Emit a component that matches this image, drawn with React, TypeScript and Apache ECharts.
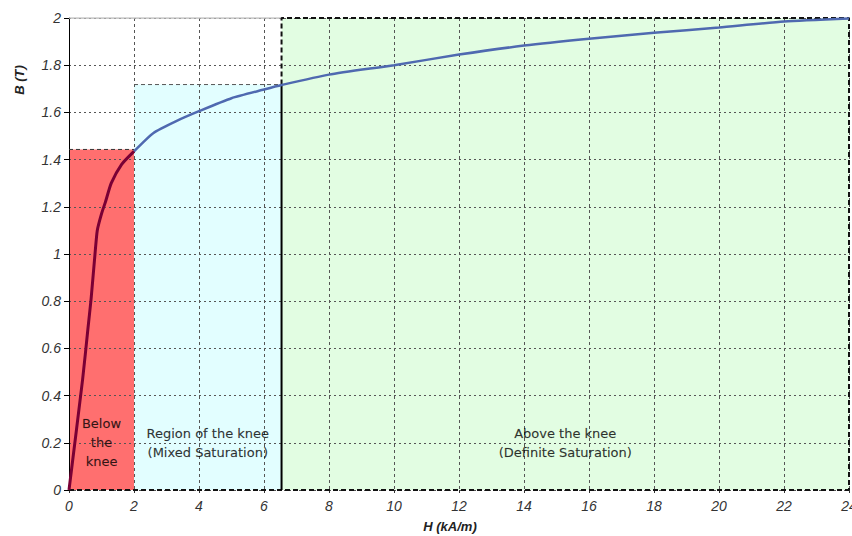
import React, { useEffect, useRef } from "react";
import * as echarts from "echarts";

// Magnetisation curve, below the knee (red part)
const H_BELOW = [0, 0.42, 0.58, 0.68, 0.8, 0.87, 1.0, 1.12, 1.3, 1.62, 2.0];
const B_BELOW = [0, 0.47, 0.68, 0.81, 1.0, 1.1, 1.17, 1.22, 1.3, 1.38, 1.435];
// Magnetisation curve, knee and above (blue part)
const H_ABOVE = [2, 2.6, 3.3, 4.0, 5.0, 6.0, 6.54, 8, 10, 12, 14, 16, 18, 20, 22, 24];
const B_ABOVE = [1.435, 1.513, 1.563, 1.605, 1.66, 1.697, 1.716, 1.76, 1.8, 1.845, 1.883, 1.912, 1.937, 1.96, 1.985, 1.998];

// Region limits
const H_KNEE_START = 2;
const H_KNEE_END = 6.54;
const B_KNEE_START = 1.443;
const B_KNEE_END = 1.718;
const H_MAX = 24;
const B_MAX = 2;

const REGION_LABELS = ["Below\nthe\nknee", "Region of the knee\n(Mixed Saturation)", "Above the knee\n(Definite Saturation)"];
const X_TICKS = [0, 2, 4, 6, 8, 10, 12, 14, 16, 18, 20, 22, 24];

const zip = (xs: number[], ys: number[]) => xs.map((x, i) => [x, ys[i]]);

export default function App() {
  const ref = useRef<HTMLDivElement>(null);
  useEffect(() => {
    if (!ref.current) return;
    const chart = echarts.init(ref.current, null, { renderer: "svg" });
    const axisFont = { fontFamily: "Liberation Sans", fontStyle: "italic" as const, fontSize: 14, color: "#333" };
    const regionFont = { fontFamily: "DejaVu Sans", fontSize: 13, color: "#000", textBorderColor: "rgba(0,0,0,0.35)", textBorderWidth: 0.4 };
    const borderLine = (data: number[][], style: any, z = 7) => ({
      type: "line",
      data,
      symbol: "none",
      silent: true,
      z,
      lineStyle: style,
    });
    chart.setOption({
      animation: false,
      grid: { left: 69, right: 3, top: 18, bottom: 46, outerBoundsMode: "none" },
      xAxis: {
        type: "value",
        min: 0,
        max: H_MAX,
        interval: 2,
        z: 5,
        name: "H (kA/m)",
        nameLocation: "middle",
        nameGap: 30,
        nameTextStyle: { fontFamily: "Liberation Sans", fontStyle: "italic", fontWeight: "bold", fontSize: 13, color: "#222", padding: [0, 18, 0, 0] },
        axisLine: { show: false },
        axisTick: { show: true, length: 3, lineStyle: { color: "#333" } },
        axisLabel: { ...axisFont, margin: 9, formatter: (v: number) => (X_TICKS.includes(v) ? String(v) : "") },
        splitLine: { show: true, lineStyle: { color: "#555", type: [3, 3], width: 1 } },
      },
      yAxis: {
        type: "value",
        min: 0,
        max: B_MAX,
        interval: 0.2,
        z: 5,
        axisLine: { show: true, onZero: false, lineStyle: { color: "#000", width: 1 } },
        axisTick: { show: true, length: 5, lineStyle: { color: "#000" } },
        axisLabel: { ...axisFont, margin: 8, formatter: (v: number) => String(Math.round(v * 10) / 10) },
        splitLine: { show: true, lineStyle: { color: "#555", type: [2, 3], width: 1 } },
      },
      graphic: [
        {
          type: "text",
          x: 19,
          y: 80,
          rotation: Math.PI / 2,
          style: {
            text: "B (T)",
            fontFamily: "Liberation Sans",
            fontStyle: "italic",
            fontWeight: "bold",
            fontSize: 13,
            fill: "#222",
            align: "center",
            verticalAlign: "middle",
          },
        },
      ],
      series: [
        {
          type: "line",
          data: [],
          silent: true,
          z: 0,
          markArea: {
            silent: true,
            label: { show: false },
            data: [
              [
                { coord: [0, 0], itemStyle: { color: "#ff6f6f" } },
                { coord: [H_KNEE_START, B_KNEE_START] },
              ],
              [
                { coord: [H_KNEE_START, 0], itemStyle: { color: "#e2feff" } },
                { coord: [H_KNEE_END, B_KNEE_END] },
              ],
              [
                { coord: [H_KNEE_END, 0], itemStyle: { color: "#e2fde2" } },
                { coord: [H_MAX, B_MAX] },
              ],
            ],
          },
        },
        // top border of plot (gray)
        borderLine([[0, B_MAX], [H_KNEE_END, B_MAX]], { color: "#bbb", width: 1.5 }, 6),
        // red region top
        borderLine([[0, B_KNEE_START], [H_KNEE_START, B_KNEE_START]], { color: "#333", width: 1, type: [4, 3] }),
        // knee region top
        borderLine([[H_KNEE_START, B_KNEE_END], [H_KNEE_END, B_KNEE_END]], { color: "#555", width: 1, type: [4, 3] }),
        // saturation region border
        borderLine(
          [[H_KNEE_END, B_KNEE_END], [H_KNEE_END, B_MAX], [H_MAX, B_MAX], [H_MAX, 0]],
          { color: "#111", width: 2, type: [5, 3] }
        ),
        borderLine([[0, 0], [H_MAX, 0]], { color: "#111", width: 2, type: [5, 3] }),
        // solid divider
        borderLine([[H_KNEE_END, 0], [H_KNEE_END, B_KNEE_END]], { color: "#000", width: 2 }),
        {
          type: "line",
          data: zip(H_ABOVE, B_ABOVE),
          symbol: "none",
          smooth: 0.2,
          z: 8,
          lineStyle: { color: "#4f69b0", width: 2.5 },
        },
        {
          type: "line",
          data: zip(H_BELOW, B_BELOW),
          symbol: "none",
          smooth: 0.2,
          z: 9,
          lineStyle: { color: "#7a0035", width: 3 },
        },
        {
          type: "scatter",
          symbolSize: 1,
          z: 10,
          silent: true,
          itemStyle: { color: "transparent" },
          label: {
            show: true,
            position: "inside",
            ...regionFont,
            lineHeight: 19,
            align: "center",
            verticalAlign: "middle",
            formatter: (p: any) => REGION_LABELS[p.dataIndex],
          },
          data: [
            [(0 + H_KNEE_START) / 2, 0.2],
            [(H_KNEE_START + H_KNEE_END) / 2, 0.2],
            [(H_KNEE_END + H_MAX) / 2, 0.2],
          ],
        },
      ],
    });
    return () => chart.dispose();
  }, []);
  return <div ref={ref} style={{ width: 852, height: 536, position: "absolute", left: 0, top: 0, background: "#fff" }} />;
}
